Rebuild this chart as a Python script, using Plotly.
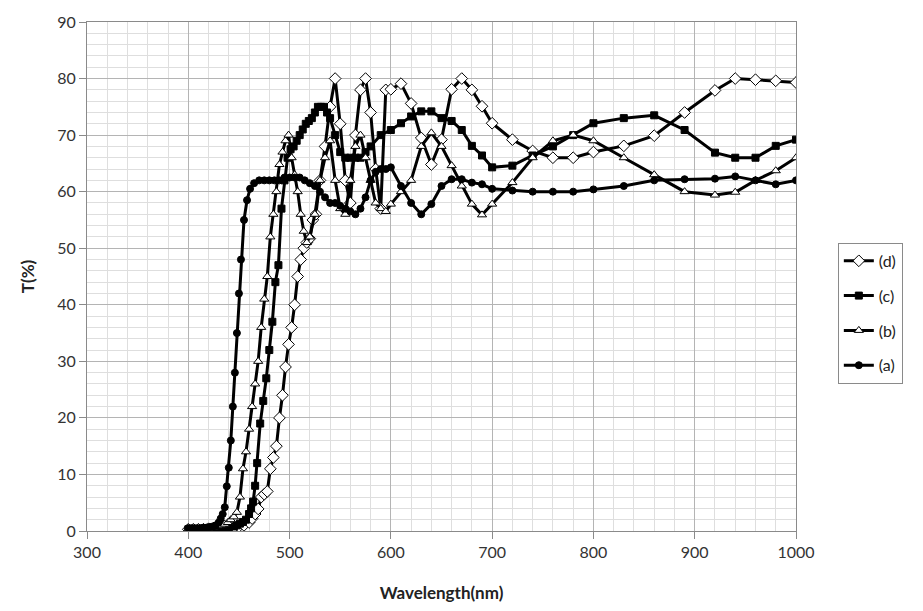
import plotly.graph_objects as go

# ---- data ----
a_x = [400,403,406,409,412,415,418,421,424,427,430,432,434,436,438,440,442,444,446,448,450,452,455,458,461,465,470,475,480,485,490,495,500,505,510,515,520,525,530,535,540,545,550,555,560,565,570,575,580,585,590,595,600,610,620,630,640,650,660,670,680,690,700,720,740,760,780,800,830,860,890,920,940,960,980,1000]
a_y = [0.5,0.5,0.5,0.5,0.5,0.6,0.6,0.7,0.8,1.0,1.5,2.2,3.0,4.2,7.9,11.2,16,22,28,35,42,48,55,58.5,60.5,61.5,62,62,62,62,62,62.5,62.5,62.5,62.5,62,61.5,61,60,59,58,58,57.5,57,56.5,56,57,59,62,63.5,64,64,64.3,61,58,56,57.8,61,62.2,62.2,61.6,61.3,60.5,60.2,60,60,60,60.4,61,62,62.2,62.3,62.7,62,61.3,62]

b_x = [400,405,410,415,420,425,430,433,436,439,442,445,448,451,454,457,460,463,466,469,472,475,478,481,484,487,490,493,496,499,502,505,508,511,514,517,520,525,530,535,540,545,550,555,560,565,570,575,580,585,590,595,600,610,620,630,640,650,660,670,680,690,700,720,740,760,780,800,830,860,890,920,940,960,980,1000]
b_y = [0.3,0.3,0.3,0.4,0.5,0.6,0.8,1,1.2,1.5,2,2.5,3.3,6,11,14,18,22,26,30,36,41,45,52,56,60,64.8,67,69,70,66,63,60,56,53,51,52,56,62,66,69,62,57,56,62,68,70,66,62,58,57,56.5,57.8,60,62,68,70.4,68,64.6,61,57.8,55.9,57.8,61.6,66,69,70,69,66,63,60,59.4,59.9,62,63.7,66]

c_x = [400,405,410,415,420,425,430,435,440,445,448,451,454,457,460,462,464,466,468,471,474,477,480,483,486,489,492,495,498,501,504,507,510,513,516,519,522,525,528,531,534,537,540,545,550,555,560,565,570,575,580,590,600,610,620,630,640,650,660,670,680,690,700,720,740,760,780,800,830,860,890,920,940,960,980,1000]
c_y = [0.3,0.3,0.3,0.4,0.4,0.5,0.5,0.6,0.6,0.8,1,1.3,1.6,2,3,4,5.2,8,12,19,23,27,32,37,44,47,57,62,66,67.5,68,69,70,71,72,72.5,73,74,75,75,75,74,73,70,67,66,66,66,66,67,68,70,70.9,72.1,73.3,74.2,74.2,73,72.5,70.9,68.1,66.4,64.3,64.6,66.4,68,70,72.1,73,73.5,70.9,66.9,66,66,68.1,69.2]

d_x = [400,405,410,415,420,425,430,435,440,445,450,455,460,463,466,469,472,475,478,481,484,487,490,493,496,499,502,505,508,511,514,517,520,523,526,530,535,540,545,550,555,560,565,570,575,580,585,590,595,600,610,620,630,640,650,660,670,680,690,700,720,740,760,780,800,830,860,890,920,940,960,980,1000]
d_y = [0.3,0.3,0.3,0.3,0.4,0.4,0.4,0.5,0.5,0.6,0.8,1,1.5,2.2,3,3.9,6,6.5,7,11,13,15,20,24,29,33,36,40,45,48,50,51,51.7,55,56,62,68,75,80,72,62,58,70,78,80,74,64,57,78,78.1,79.1,75.6,69.5,64.8,69.2,78.1,80,78,75.1,72.1,69.2,67.2,66,66,67,68.1,69.9,74,77.9,80,79.8,79.6,79.3]

# drawn in this order (a drawn last, on top); legend order set by rank
series = [
    ("(d)", d_x, d_y, "diamond", "white", 9, 1),
    ("(c)", c_x, c_y, "square", "black", 7, 2),
    ("(b)", b_x, b_y, "triangle-up", "white", 8, 3),
    ("(a)", a_x, a_y, "circle", "black", 7, 4),
]

x_ticks = [300, 400, 500, 600, 700, 800, 900, 1000]
y_ticks = [0, 10, 20, 30, 40, 50, 60, 70, 80, 90]

fig = go.Figure()
for name, xs, ys, sym, fill, size, rank in series:
    fig.add_trace(go.Scatter(
        x=xs, y=ys, name=name, mode="lines+markers",
        legendgroup=name, legendrank=rank,
        line=dict(color="black", width=3),
        marker=dict(symbol=sym, color=fill, size=size,
                    line=dict(color="black", width=1)),
    ))

font_family = "Lato, 'Open Sans', sans-serif"
fig.update_layout(
    width=923, height=611,
    margin=dict(l=87, r=127, t=18, b=79),
    paper_bgcolor="white", plot_bgcolor="white",
    font=dict(family=font_family, size=16, color="#333333"),
    showlegend=True,
    legend=dict(
        x=1.059, y=0.566, xanchor="left", yanchor="top",
        traceorder="grouped", tracegroupgap=11,
        bordercolor="#8a8a8a", borderwidth=1,
        font=dict(size=16, color="#222222"),
        itemwidth=30,
    ),
    xaxis=dict(
        range=[300, 1000], tickvals=x_ticks,
        showline=True, linecolor="#8a8a8a", linewidth=1, mirror=True,
        ticks="outside", ticklen=7, tickcolor="#8a8a8a",
        showgrid=True, gridcolor="#b4b4b4", gridwidth=1,
        minor=dict(dtick=20, showgrid=True, gridcolor="#dedede", gridwidth=1),
        zeroline=False,
        title=dict(text="<b>Wavelength(nm)</b>", font=dict(size=17, color="#222222"), standoff=26),
    ),
    yaxis=dict(
        range=[0, 90], tickvals=y_ticks,
        showline=True, linecolor="#8a8a8a", linewidth=1, mirror=True,
        ticks="outside", ticklen=7, tickcolor="#8a8a8a",
        showgrid=True, gridcolor="#b4b4b4", gridwidth=1,
        minor=dict(dtick=2, showgrid=True, gridcolor="#dedede", gridwidth=1),
        zeroline=False,
        title=dict(text="<b>T(%)</b>", font=dict(size=17, color="#222222"), standoff=18),
    ),
)

fig.write_html("out.html")
